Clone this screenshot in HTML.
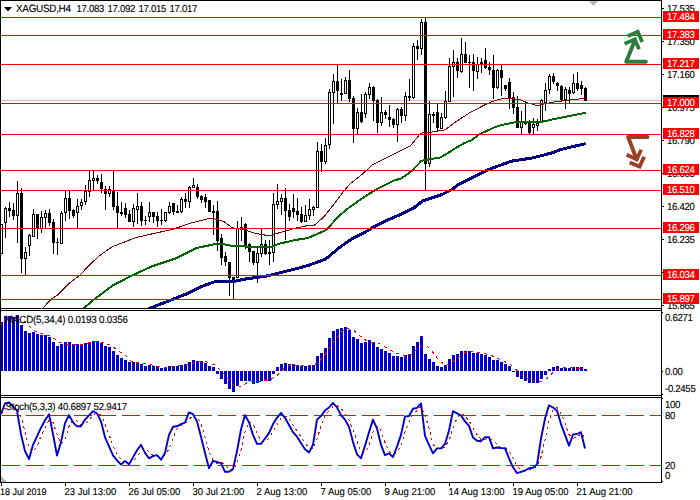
<!DOCTYPE html><html><head><meta charset="utf-8"><title>XAGUSD H4</title><style>
html,body{margin:0;padding:0;background:#fff;}
#c{position:relative;width:700px;height:500px;overflow:hidden;background:#fff;font-family:"Liberation Sans",sans-serif;font-size:9px;color:#000;text-rendering:geometricPrecision;}
#c svg{position:absolute;left:0;top:0;}
.t{position:absolute;white-space:nowrap;line-height:10px;height:10px;transform:scale(1,1.06);transform-origin:50% 55%;-webkit-text-stroke:0.12px #000;}
.ax{left:667px;font-size:9.6px;letter-spacing:-0.3px;}
.pl{position:absolute;left:663px;width:36px;height:11px;background:#f00;color:#fff;font-size:9.6px;letter-spacing:-0.3px;line-height:11px;white-space:nowrap;}
.pl span{position:absolute;left:4px;top:1px;transform:scale(1,1.06);transform-origin:50% 55%;-webkit-text-stroke:0.12px #fff;}
.tm{top:488px;font-size:9.5px;}
</style></head><body><div id="c">
<svg width="700" height="500" viewBox="0 0 700 500" shape-rendering="crispEdges">
<defs><clipPath id="cm"><rect x="1" y="1" width="660" height="307"/></clipPath><clipPath id="cd"><rect x="1" y="311" width="660" height="84"/></clipPath><clipPath id="cs"><rect x="1" y="398" width="660" height="84"/></clipPath></defs>
<g clip-path="url(#cm)">
<rect x="1" y="100" width="660" height="1" fill="#c0c0c0"/>
<rect x="1" y="224" width="1" height="30" fill="#000"/>
<rect x="0" y="224" width="3" height="30" fill="#000"/>
<rect x="1" y="225" width="1" height="28" fill="#fff"/>
<rect x="5" y="207" width="1" height="31" fill="#000"/>
<rect x="4" y="208" width="3" height="15" fill="#000"/>
<rect x="5" y="209" width="1" height="13" fill="#fff"/>
<rect x="9" y="202" width="1" height="15" fill="#000"/>
<rect x="8" y="208" width="3" height="3" fill="#000"/>
<rect x="13" y="203" width="1" height="17" fill="#000"/>
<rect x="12" y="210" width="3" height="6" fill="#000"/>
<rect x="17" y="181" width="1" height="62" fill="#000"/>
<rect x="16" y="193" width="3" height="23" fill="#000"/>
<rect x="17" y="194" width="1" height="21" fill="#fff"/>
<rect x="21" y="188" width="1" height="85" fill="#000"/>
<rect x="20" y="193" width="3" height="66" fill="#000"/>
<rect x="25" y="247" width="1" height="28" fill="#000"/>
<rect x="24" y="252" width="3" height="7" fill="#000"/>
<rect x="25" y="253" width="1" height="5" fill="#fff"/>
<rect x="29" y="234" width="1" height="22" fill="#000"/>
<rect x="28" y="235" width="3" height="11" fill="#000"/>
<rect x="29" y="236" width="1" height="9" fill="#fff"/>
<rect x="33" y="209" width="1" height="28" fill="#000"/>
<rect x="32" y="214" width="3" height="23" fill="#000"/>
<rect x="33" y="215" width="1" height="21" fill="#fff"/>
<rect x="37" y="214" width="1" height="25" fill="#000"/>
<rect x="36" y="214" width="3" height="14" fill="#000"/>
<rect x="41" y="211" width="1" height="22" fill="#000"/>
<rect x="40" y="217" width="3" height="12" fill="#000"/>
<rect x="41" y="218" width="1" height="10" fill="#fff"/>
<rect x="45" y="210" width="1" height="18" fill="#000"/>
<rect x="44" y="213" width="3" height="5" fill="#000"/>
<rect x="45" y="214" width="1" height="3" fill="#fff"/>
<rect x="49" y="209" width="1" height="17" fill="#000"/>
<rect x="48" y="213" width="3" height="10" fill="#000"/>
<rect x="53" y="219" width="1" height="35" fill="#000"/>
<rect x="52" y="222" width="3" height="21" fill="#000"/>
<rect x="57" y="238" width="1" height="17" fill="#000"/>
<rect x="56" y="242" width="3" height="1" fill="#000"/>
<rect x="61" y="211" width="1" height="33" fill="#000"/>
<rect x="60" y="213" width="3" height="31" fill="#000"/>
<rect x="61" y="214" width="1" height="29" fill="#fff"/>
<rect x="65" y="191" width="1" height="30" fill="#000"/>
<rect x="64" y="198" width="3" height="15" fill="#000"/>
<rect x="65" y="199" width="1" height="13" fill="#fff"/>
<rect x="69" y="191" width="1" height="28" fill="#000"/>
<rect x="68" y="198" width="3" height="13" fill="#000"/>
<rect x="73" y="209" width="1" height="9" fill="#000"/>
<rect x="72" y="210" width="3" height="6" fill="#000"/>
<rect x="77" y="199" width="1" height="29" fill="#000"/>
<rect x="76" y="206" width="3" height="7" fill="#000"/>
<rect x="77" y="207" width="1" height="5" fill="#fff"/>
<rect x="81" y="199" width="1" height="11" fill="#000"/>
<rect x="80" y="202" width="3" height="4" fill="#000"/>
<rect x="81" y="203" width="1" height="2" fill="#fff"/>
<rect x="85" y="185" width="1" height="20" fill="#000"/>
<rect x="84" y="191" width="3" height="11" fill="#000"/>
<rect x="85" y="192" width="1" height="9" fill="#fff"/>
<rect x="89" y="171" width="1" height="26" fill="#000"/>
<rect x="88" y="180" width="3" height="12" fill="#000"/>
<rect x="89" y="181" width="1" height="10" fill="#fff"/>
<rect x="93" y="171" width="1" height="20" fill="#000"/>
<rect x="92" y="178" width="3" height="3" fill="#000"/>
<rect x="93" y="179" width="1" height="1" fill="#fff"/>
<rect x="97" y="175" width="1" height="9" fill="#000"/>
<rect x="96" y="178" width="3" height="3" fill="#000"/>
<rect x="101" y="174" width="1" height="19" fill="#000"/>
<rect x="100" y="182" width="3" height="7" fill="#000"/>
<rect x="105" y="186" width="1" height="24" fill="#000"/>
<rect x="104" y="189" width="3" height="5" fill="#000"/>
<rect x="109" y="186" width="1" height="11" fill="#000"/>
<rect x="108" y="189" width="3" height="5" fill="#000"/>
<rect x="109" y="190" width="1" height="3" fill="#fff"/>
<rect x="113" y="171" width="1" height="39" fill="#000"/>
<rect x="112" y="191" width="3" height="16" fill="#000"/>
<rect x="117" y="192" width="1" height="36" fill="#000"/>
<rect x="116" y="206" width="3" height="7" fill="#000"/>
<rect x="121" y="202" width="1" height="14" fill="#000"/>
<rect x="120" y="212" width="3" height="2" fill="#000"/>
<rect x="125" y="203" width="1" height="15" fill="#000"/>
<rect x="124" y="208" width="3" height="7" fill="#000"/>
<rect x="129" y="210" width="1" height="12" fill="#000"/>
<rect x="128" y="214" width="3" height="8" fill="#000"/>
<rect x="133" y="204" width="1" height="23" fill="#000"/>
<rect x="132" y="208" width="3" height="14" fill="#000"/>
<rect x="133" y="209" width="1" height="12" fill="#fff"/>
<rect x="137" y="193" width="1" height="31" fill="#000"/>
<rect x="136" y="206" width="3" height="4" fill="#000"/>
<rect x="137" y="207" width="1" height="2" fill="#fff"/>
<rect x="141" y="202" width="1" height="24" fill="#000"/>
<rect x="140" y="206" width="3" height="15" fill="#000"/>
<rect x="145" y="216" width="1" height="9" fill="#000"/>
<rect x="144" y="220" width="3" height="1" fill="#000"/>
<rect x="149" y="202" width="1" height="20" fill="#000"/>
<rect x="148" y="212" width="3" height="5" fill="#000"/>
<rect x="149" y="213" width="1" height="3" fill="#fff"/>
<rect x="153" y="212" width="1" height="11" fill="#000"/>
<rect x="152" y="212" width="3" height="5" fill="#000"/>
<rect x="157" y="212" width="1" height="15" fill="#000"/>
<rect x="156" y="216" width="3" height="5" fill="#000"/>
<rect x="161" y="209" width="1" height="16" fill="#000"/>
<rect x="160" y="220" width="3" height="1" fill="#000"/>
<rect x="165" y="212" width="1" height="10" fill="#000"/>
<rect x="164" y="212" width="3" height="9" fill="#000"/>
<rect x="165" y="213" width="1" height="7" fill="#fff"/>
<rect x="169" y="202" width="1" height="12" fill="#000"/>
<rect x="168" y="206" width="3" height="7" fill="#000"/>
<rect x="169" y="207" width="1" height="5" fill="#fff"/>
<rect x="173" y="203" width="1" height="12" fill="#000"/>
<rect x="172" y="203" width="3" height="9" fill="#000"/>
<rect x="177" y="205" width="1" height="8" fill="#000"/>
<rect x="176" y="211" width="3" height="2" fill="#000"/>
<rect x="181" y="197" width="1" height="16" fill="#000"/>
<rect x="180" y="199" width="3" height="13" fill="#000"/>
<rect x="181" y="200" width="1" height="11" fill="#fff"/>
<rect x="185" y="193" width="1" height="15" fill="#000"/>
<rect x="184" y="199" width="3" height="3" fill="#000"/>
<rect x="189" y="186" width="1" height="22" fill="#000"/>
<rect x="188" y="187" width="3" height="15" fill="#000"/>
<rect x="189" y="188" width="1" height="13" fill="#fff"/>
<rect x="193" y="178" width="1" height="10" fill="#000"/>
<rect x="192" y="185" width="3" height="3" fill="#000"/>
<rect x="193" y="186" width="1" height="1" fill="#fff"/>
<rect x="197" y="184" width="1" height="15" fill="#000"/>
<rect x="196" y="187" width="3" height="10" fill="#000"/>
<rect x="201" y="195" width="1" height="8" fill="#000"/>
<rect x="200" y="196" width="3" height="4" fill="#000"/>
<rect x="205" y="194" width="1" height="14" fill="#000"/>
<rect x="204" y="197" width="3" height="5" fill="#000"/>
<rect x="209" y="200" width="1" height="12" fill="#000"/>
<rect x="208" y="200" width="3" height="12" fill="#000"/>
<rect x="213" y="205" width="1" height="30" fill="#000"/>
<rect x="212" y="211" width="3" height="2" fill="#000"/>
<rect x="217" y="201" width="1" height="50" fill="#000"/>
<rect x="216" y="211" width="3" height="30" fill="#000"/>
<rect x="221" y="234" width="1" height="31" fill="#000"/>
<rect x="220" y="238" width="3" height="20" fill="#000"/>
<rect x="225" y="252" width="1" height="14" fill="#000"/>
<rect x="224" y="256" width="3" height="6" fill="#000"/>
<rect x="229" y="262" width="1" height="34" fill="#000"/>
<rect x="228" y="262" width="3" height="16" fill="#000"/>
<rect x="233" y="277" width="1" height="22" fill="#000"/>
<rect x="232" y="277" width="3" height="3" fill="#000"/>
<rect x="237" y="221" width="1" height="57" fill="#000"/>
<rect x="236" y="228" width="3" height="50" fill="#000"/>
<rect x="237" y="229" width="1" height="48" fill="#fff"/>
<rect x="241" y="217" width="1" height="24" fill="#000"/>
<rect x="240" y="227" width="3" height="1" fill="#000"/>
<rect x="245" y="223" width="1" height="26" fill="#000"/>
<rect x="244" y="224" width="3" height="22" fill="#000"/>
<rect x="249" y="243" width="1" height="19" fill="#000"/>
<rect x="248" y="244" width="3" height="8" fill="#000"/>
<rect x="253" y="251" width="1" height="14" fill="#000"/>
<rect x="252" y="251" width="3" height="12" fill="#000"/>
<rect x="257" y="247" width="1" height="36" fill="#000"/>
<rect x="256" y="253" width="3" height="10" fill="#000"/>
<rect x="257" y="254" width="1" height="8" fill="#fff"/>
<rect x="261" y="229" width="1" height="28" fill="#000"/>
<rect x="260" y="244" width="3" height="10" fill="#000"/>
<rect x="261" y="245" width="1" height="8" fill="#fff"/>
<rect x="265" y="240" width="1" height="15" fill="#000"/>
<rect x="264" y="244" width="3" height="10" fill="#000"/>
<rect x="269" y="240" width="1" height="25" fill="#000"/>
<rect x="268" y="252" width="3" height="2" fill="#000"/>
<rect x="273" y="193" width="1" height="69" fill="#000"/>
<rect x="272" y="204" width="3" height="49" fill="#000"/>
<rect x="273" y="205" width="1" height="47" fill="#fff"/>
<rect x="277" y="184" width="1" height="25" fill="#000"/>
<rect x="276" y="201" width="3" height="4" fill="#000"/>
<rect x="277" y="202" width="1" height="2" fill="#fff"/>
<rect x="281" y="194" width="1" height="21" fill="#000"/>
<rect x="280" y="198" width="3" height="4" fill="#000"/>
<rect x="281" y="199" width="1" height="2" fill="#fff"/>
<rect x="285" y="188" width="1" height="52" fill="#000"/>
<rect x="284" y="198" width="3" height="13" fill="#000"/>
<rect x="289" y="204" width="1" height="17" fill="#000"/>
<rect x="288" y="210" width="3" height="7" fill="#000"/>
<rect x="293" y="194" width="1" height="24" fill="#000"/>
<rect x="292" y="208" width="3" height="4" fill="#000"/>
<rect x="297" y="198" width="1" height="23" fill="#000"/>
<rect x="296" y="211" width="3" height="4" fill="#000"/>
<rect x="301" y="207" width="1" height="16" fill="#000"/>
<rect x="300" y="214" width="3" height="8" fill="#000"/>
<rect x="305" y="205" width="1" height="17" fill="#000"/>
<rect x="304" y="215" width="3" height="7" fill="#000"/>
<rect x="305" y="216" width="1" height="5" fill="#fff"/>
<rect x="309" y="199" width="1" height="21" fill="#000"/>
<rect x="308" y="209" width="3" height="7" fill="#000"/>
<rect x="309" y="210" width="1" height="5" fill="#fff"/>
<rect x="313" y="206" width="1" height="10" fill="#000"/>
<rect x="312" y="207" width="3" height="3" fill="#000"/>
<rect x="313" y="208" width="1" height="1" fill="#fff"/>
<rect x="317" y="142" width="1" height="66" fill="#000"/>
<rect x="316" y="151" width="3" height="57" fill="#000"/>
<rect x="317" y="152" width="1" height="55" fill="#fff"/>
<rect x="321" y="144" width="1" height="28" fill="#000"/>
<rect x="320" y="151" width="3" height="11" fill="#000"/>
<rect x="325" y="138" width="1" height="26" fill="#000"/>
<rect x="324" y="145" width="3" height="17" fill="#000"/>
<rect x="325" y="146" width="1" height="15" fill="#fff"/>
<rect x="329" y="89" width="1" height="60" fill="#000"/>
<rect x="328" y="92" width="3" height="53" fill="#000"/>
<rect x="329" y="93" width="1" height="51" fill="#fff"/>
<rect x="333" y="74" width="1" height="50" fill="#000"/>
<rect x="332" y="81" width="3" height="12" fill="#000"/>
<rect x="333" y="82" width="1" height="10" fill="#fff"/>
<rect x="337" y="65" width="1" height="38" fill="#000"/>
<rect x="336" y="81" width="3" height="10" fill="#000"/>
<rect x="341" y="79" width="1" height="22" fill="#000"/>
<rect x="340" y="93" width="3" height="2" fill="#000"/>
<rect x="345" y="77" width="1" height="17" fill="#000"/>
<rect x="344" y="80" width="3" height="14" fill="#000"/>
<rect x="345" y="81" width="1" height="12" fill="#fff"/>
<rect x="349" y="70" width="1" height="32" fill="#000"/>
<rect x="348" y="80" width="3" height="19" fill="#000"/>
<rect x="353" y="96" width="1" height="47" fill="#000"/>
<rect x="352" y="98" width="3" height="31" fill="#000"/>
<rect x="357" y="108" width="1" height="26" fill="#000"/>
<rect x="356" y="112" width="3" height="17" fill="#000"/>
<rect x="357" y="113" width="1" height="15" fill="#fff"/>
<rect x="361" y="94" width="1" height="29" fill="#000"/>
<rect x="360" y="112" width="3" height="10" fill="#000"/>
<rect x="365" y="92" width="1" height="26" fill="#000"/>
<rect x="364" y="94" width="3" height="20" fill="#000"/>
<rect x="365" y="95" width="1" height="18" fill="#fff"/>
<rect x="369" y="83" width="1" height="16" fill="#000"/>
<rect x="368" y="87" width="3" height="8" fill="#000"/>
<rect x="369" y="88" width="1" height="6" fill="#fff"/>
<rect x="373" y="86" width="1" height="35" fill="#000"/>
<rect x="372" y="87" width="3" height="14" fill="#000"/>
<rect x="377" y="99" width="1" height="34" fill="#000"/>
<rect x="376" y="100" width="3" height="23" fill="#000"/>
<rect x="381" y="97" width="1" height="29" fill="#000"/>
<rect x="380" y="112" width="3" height="11" fill="#000"/>
<rect x="381" y="113" width="1" height="9" fill="#fff"/>
<rect x="385" y="110" width="1" height="9" fill="#000"/>
<rect x="384" y="112" width="3" height="3" fill="#000"/>
<rect x="389" y="105" width="1" height="22" fill="#000"/>
<rect x="388" y="117" width="3" height="3" fill="#000"/>
<rect x="393" y="118" width="1" height="10" fill="#000"/>
<rect x="392" y="119" width="3" height="6" fill="#000"/>
<rect x="397" y="108" width="1" height="34" fill="#000"/>
<rect x="396" y="109" width="3" height="16" fill="#000"/>
<rect x="397" y="110" width="1" height="14" fill="#fff"/>
<rect x="401" y="107" width="1" height="16" fill="#000"/>
<rect x="400" y="109" width="3" height="7" fill="#000"/>
<rect x="405" y="92" width="1" height="29" fill="#000"/>
<rect x="404" y="96" width="3" height="20" fill="#000"/>
<rect x="405" y="97" width="1" height="18" fill="#fff"/>
<rect x="409" y="79" width="1" height="22" fill="#000"/>
<rect x="408" y="96" width="3" height="2" fill="#000"/>
<rect x="413" y="43" width="1" height="56" fill="#000"/>
<rect x="412" y="46" width="3" height="52" fill="#000"/>
<rect x="413" y="47" width="1" height="50" fill="#fff"/>
<rect x="417" y="40" width="1" height="20" fill="#000"/>
<rect x="416" y="46" width="3" height="3" fill="#000"/>
<rect x="421" y="19" width="1" height="36" fill="#000"/>
<rect x="420" y="22" width="3" height="27" fill="#000"/>
<rect x="421" y="23" width="1" height="25" fill="#fff"/>
<rect x="425" y="18" width="1" height="172" fill="#000"/>
<rect x="424" y="22" width="3" height="142" fill="#000"/>
<rect x="429" y="101" width="1" height="66" fill="#000"/>
<rect x="428" y="114" width="3" height="50" fill="#000"/>
<rect x="429" y="115" width="1" height="48" fill="#fff"/>
<rect x="433" y="112" width="1" height="11" fill="#000"/>
<rect x="432" y="114" width="3" height="2" fill="#000"/>
<rect x="437" y="104" width="1" height="27" fill="#000"/>
<rect x="436" y="112" width="3" height="16" fill="#000"/>
<rect x="441" y="113" width="1" height="16" fill="#000"/>
<rect x="440" y="117" width="3" height="12" fill="#000"/>
<rect x="441" y="118" width="1" height="10" fill="#fff"/>
<rect x="445" y="91" width="1" height="28" fill="#000"/>
<rect x="444" y="101" width="3" height="17" fill="#000"/>
<rect x="445" y="102" width="1" height="15" fill="#fff"/>
<rect x="449" y="58" width="1" height="44" fill="#000"/>
<rect x="448" y="66" width="3" height="36" fill="#000"/>
<rect x="449" y="67" width="1" height="34" fill="#fff"/>
<rect x="453" y="50" width="1" height="47" fill="#000"/>
<rect x="452" y="62" width="3" height="5" fill="#000"/>
<rect x="453" y="63" width="1" height="3" fill="#fff"/>
<rect x="457" y="58" width="1" height="20" fill="#000"/>
<rect x="456" y="62" width="3" height="9" fill="#000"/>
<rect x="461" y="38" width="1" height="35" fill="#000"/>
<rect x="460" y="54" width="3" height="18" fill="#000"/>
<rect x="461" y="55" width="1" height="16" fill="#fff"/>
<rect x="465" y="42" width="1" height="21" fill="#000"/>
<rect x="464" y="54" width="3" height="9" fill="#000"/>
<rect x="469" y="55" width="1" height="33" fill="#000"/>
<rect x="468" y="62" width="3" height="1" fill="#000"/>
<rect x="473" y="54" width="1" height="37" fill="#000"/>
<rect x="472" y="62" width="3" height="9" fill="#000"/>
<rect x="477" y="57" width="1" height="22" fill="#000"/>
<rect x="476" y="64" width="3" height="8" fill="#000"/>
<rect x="477" y="65" width="1" height="6" fill="#fff"/>
<rect x="481" y="58" width="1" height="15" fill="#000"/>
<rect x="480" y="62" width="3" height="2" fill="#000"/>
<rect x="485" y="48" width="1" height="21" fill="#000"/>
<rect x="484" y="60" width="3" height="8" fill="#000"/>
<rect x="489" y="62" width="1" height="13" fill="#000"/>
<rect x="488" y="67" width="3" height="3" fill="#000"/>
<rect x="493" y="55" width="1" height="44" fill="#000"/>
<rect x="492" y="70" width="3" height="18" fill="#000"/>
<rect x="497" y="69" width="1" height="20" fill="#000"/>
<rect x="496" y="70" width="3" height="18" fill="#000"/>
<rect x="497" y="71" width="1" height="16" fill="#fff"/>
<rect x="501" y="65" width="1" height="31" fill="#000"/>
<rect x="500" y="70" width="3" height="8" fill="#000"/>
<rect x="505" y="85" width="1" height="6" fill="#000"/>
<rect x="504" y="85" width="3" height="4" fill="#000"/>
<rect x="509" y="78" width="1" height="31" fill="#000"/>
<rect x="508" y="82" width="3" height="17" fill="#000"/>
<rect x="513" y="92" width="1" height="22" fill="#000"/>
<rect x="512" y="97" width="3" height="11" fill="#000"/>
<rect x="517" y="96" width="1" height="32" fill="#000"/>
<rect x="516" y="107" width="3" height="21" fill="#000"/>
<rect x="521" y="111" width="1" height="23" fill="#000"/>
<rect x="520" y="122" width="3" height="6" fill="#000"/>
<rect x="521" y="123" width="1" height="4" fill="#fff"/>
<rect x="525" y="102" width="1" height="23" fill="#000"/>
<rect x="524" y="121" width="3" height="3" fill="#000"/>
<rect x="529" y="120" width="1" height="14" fill="#000"/>
<rect x="528" y="122" width="3" height="11" fill="#000"/>
<rect x="533" y="118" width="1" height="16" fill="#000"/>
<rect x="532" y="124" width="3" height="4" fill="#000"/>
<rect x="533" y="125" width="1" height="2" fill="#fff"/>
<rect x="537" y="119" width="1" height="12" fill="#000"/>
<rect x="536" y="123" width="3" height="3" fill="#000"/>
<rect x="537" y="124" width="1" height="1" fill="#fff"/>
<rect x="541" y="99" width="1" height="23" fill="#000"/>
<rect x="540" y="100" width="3" height="22" fill="#000"/>
<rect x="541" y="101" width="1" height="20" fill="#fff"/>
<rect x="545" y="83" width="1" height="28" fill="#000"/>
<rect x="544" y="90" width="3" height="13" fill="#000"/>
<rect x="545" y="91" width="1" height="11" fill="#fff"/>
<rect x="549" y="74" width="1" height="20" fill="#000"/>
<rect x="548" y="76" width="3" height="14" fill="#000"/>
<rect x="549" y="77" width="1" height="12" fill="#fff"/>
<rect x="553" y="73" width="1" height="11" fill="#000"/>
<rect x="552" y="76" width="3" height="6" fill="#000"/>
<rect x="557" y="82" width="1" height="9" fill="#000"/>
<rect x="556" y="83" width="3" height="3" fill="#000"/>
<rect x="561" y="85" width="1" height="17" fill="#000"/>
<rect x="560" y="86" width="3" height="14" fill="#000"/>
<rect x="565" y="87" width="1" height="22" fill="#000"/>
<rect x="564" y="89" width="3" height="11" fill="#000"/>
<rect x="565" y="90" width="1" height="9" fill="#fff"/>
<rect x="569" y="87" width="1" height="16" fill="#000"/>
<rect x="568" y="90" width="3" height="4" fill="#000"/>
<rect x="573" y="74" width="1" height="20" fill="#000"/>
<rect x="572" y="83" width="3" height="10" fill="#000"/>
<rect x="573" y="84" width="1" height="8" fill="#fff"/>
<rect x="577" y="72" width="1" height="19" fill="#000"/>
<rect x="576" y="83" width="3" height="6" fill="#000"/>
<rect x="581" y="81" width="1" height="14" fill="#000"/>
<rect x="580" y="85" width="3" height="4" fill="#000"/>
<rect x="585" y="87" width="1" height="14" fill="#000"/>
<rect x="584" y="88" width="3" height="13" fill="#000"/>
<g shape-rendering="crispEdges">
<polyline points="42.4,308.7 51.2,299.1 57.6,295.1 70.4,282.3 80.0,275.1 89.6,264.7 99.2,255.9 112.0,246.9 136.0,237.5 152.0,233.9 172.8,229.3 192.0,222.7 208.0,218.7 214.4,218.7 224.0,221.5 232.0,227.6 243.2,229.5 256.0,233.5 269.6,235.9 276.8,233.5 294.4,228.3 308.0,225.5 314.4,225.2 324.0,216.7 333.6,204.7 343.2,191.9 349.6,184.3 360.8,175.5 372.0,165.1 384.8,158.7 397.6,152.3 410.4,145.9 420.8,133.1 430.4,132.3 444.8,129.9 456.0,121.6 470.4,112.3 486.4,104.0 492.0,101.6 501.6,98.7 511.2,98.3 520.8,100.0 528.8,103.2 538.4,105.9 544.8,103.8 556.0,101.6 568.8,100.0 584.8,98.4" fill="none" stroke="#800000" stroke-width="1" stroke-linejoin="round"/>
<polyline points="83.2,308.7 94.4,299.1 112.0,285.9 131.2,275.9 152.0,266.3 176.0,258.3 196.8,247.9 214.4,244.3 224.0,244.3 233.6,246.3 264.0,246.8 272.0,246.8 278.4,243.9 296.0,239.9 308.0,238.0 325.6,230.3 340.0,215.1 349.6,207.1 362.4,198.3 375.2,189.9 394.4,180.3 400.8,178.7 411.2,171.5 421.6,160.8 432.0,158.9 440.0,157.5 447.2,153.5 455.6,148.1 464.0,143.3 471.2,140.3 480.0,133.9 496.0,126.7 504.8,124.3 517.6,121.9 541.6,121.9 556.0,118.7 572.0,115.5 585.6,112.8" fill="none" stroke="#006400" stroke-width="2" stroke-linejoin="round"/>
<polyline points="148.0,309.0 171.2,299.9 185.6,294.3 200.0,287.1 214.4,281.8 224.0,281.2 233.6,281.5 244.8,279.1 267.2,275.9 284.8,271.6 299.2,267.9 308.0,265.5 325.6,259.1 340.0,247.1 352.8,238.3 365.6,231.9 372.0,227.9 388.0,219.9 400.0,214.7 414.4,207.5 422.4,201.1 441.6,194.7 452.8,189.1 457.6,184.8 472.0,177.9 489.6,169.1 511.2,161.2 532.0,158.0 552.8,152.7 560.8,149.5 585.6,143.6" fill="none" stroke="#000080" stroke-width="3" stroke-linejoin="round"/>
</g>
<rect x="1" y="17" width="660" height="1" fill="#ff0000"/>
<rect x="1" y="35" width="660" height="1" fill="#ff0000"/>
<rect x="1" y="64" width="660" height="1" fill="#ff0000"/>
<rect x="1" y="103" width="660" height="1" fill="#ff0000"/>
<rect x="1" y="134" width="660" height="1" fill="#ff0000"/>
<rect x="1" y="170" width="660" height="1" fill="#ff0000"/>
<rect x="1" y="190" width="660" height="1" fill="#ff0000"/>
<rect x="1" y="228" width="660" height="1" fill="#ff0000"/>
<rect x="1" y="275" width="660" height="1" fill="#ff0000"/>
<rect x="1" y="299" width="660" height="1" fill="#ff0000"/>
<polygon points="589,1 598,1 593.5,6" fill="#b4b4b4" shape-rendering="auto"/>
<g shape-rendering="auto" fill="none" stroke-linecap="round" stroke-linejoin="miter">
<g stroke="#2f7b3e">
<path d="M645.9 61.75 L626.2 61.75 L635.2 39.6" stroke-width="3.9" stroke-linejoin="round"/>
<path d="M624.5 43.8 L634.85 39.4 L639.1 49.2" stroke-width="3.7" stroke-linecap="butt"/>
<path d="M627.7 36.1 L637.75 31.8 L642.2 42.1" stroke-width="3.7" stroke-linecap="butt"/>
</g>
<g stroke="#993f22">
<path d="M647.4 137.05 L628.1 137.05 L636.6 159.3" stroke-width="3.9" stroke-linejoin="round"/>
<path d="M626.6 154.8 L636.7 159.3 L641.2 149.7" stroke-width="3.75" stroke-linecap="butt"/>
<path d="M629.6 162.6 L639.6 166.5 L644.1 156.7" stroke-width="3.75" stroke-linecap="butt"/>
</g></g>
</g><g clip-path="url(#cd)">
<rect x="0" y="322" width="3" height="49" fill="#0000cd"/>
<rect x="4" y="316" width="3" height="55" fill="#0000cd"/>
<rect x="8" y="316" width="3" height="55" fill="#0000cd"/>
<rect x="12" y="317" width="3" height="54" fill="#0000cd"/>
<rect x="16" y="315" width="3" height="56" fill="#0000cd"/>
<rect x="20" y="325" width="3" height="46" fill="#0000cd"/>
<rect x="24" y="331" width="3" height="40" fill="#0000cd"/>
<rect x="28" y="333" width="3" height="38" fill="#0000cd"/>
<rect x="32" y="332" width="3" height="39" fill="#0000cd"/>
<rect x="36" y="334" width="3" height="37" fill="#0000cd"/>
<rect x="40" y="335" width="3" height="36" fill="#0000cd"/>
<rect x="44" y="335" width="3" height="36" fill="#0000cd"/>
<rect x="48" y="337" width="3" height="34" fill="#0000cd"/>
<rect x="52" y="342" width="3" height="29" fill="#0000cd"/>
<rect x="56" y="346" width="3" height="25" fill="#0000cd"/>
<rect x="60" y="344" width="3" height="27" fill="#0000cd"/>
<rect x="64" y="342" width="3" height="29" fill="#0000cd"/>
<rect x="68" y="342" width="3" height="29" fill="#0000cd"/>
<rect x="72" y="344" width="3" height="27" fill="#0000cd"/>
<rect x="76" y="344" width="3" height="27" fill="#0000cd"/>
<rect x="80" y="344" width="3" height="27" fill="#0000cd"/>
<rect x="84" y="343" width="3" height="28" fill="#0000cd"/>
<rect x="88" y="342" width="3" height="29" fill="#0000cd"/>
<rect x="92" y="341" width="3" height="30" fill="#0000cd"/>
<rect x="96" y="341" width="3" height="30" fill="#0000cd"/>
<rect x="100" y="343" width="3" height="28" fill="#0000cd"/>
<rect x="104" y="346" width="3" height="25" fill="#0000cd"/>
<rect x="108" y="347" width="3" height="24" fill="#0000cd"/>
<rect x="112" y="351" width="3" height="20" fill="#0000cd"/>
<rect x="116" y="355" width="3" height="16" fill="#0000cd"/>
<rect x="120" y="358" width="3" height="13" fill="#0000cd"/>
<rect x="124" y="360" width="3" height="11" fill="#0000cd"/>
<rect x="128" y="362" width="3" height="9" fill="#0000cd"/>
<rect x="132" y="362" width="3" height="9" fill="#0000cd"/>
<rect x="136" y="362" width="3" height="9" fill="#0000cd"/>
<rect x="140" y="364" width="3" height="7" fill="#0000cd"/>
<rect x="144" y="366" width="3" height="5" fill="#0000cd"/>
<rect x="148" y="365" width="3" height="6" fill="#0000cd"/>
<rect x="152" y="366" width="3" height="5" fill="#0000cd"/>
<rect x="156" y="366" width="3" height="5" fill="#0000cd"/>
<rect x="160" y="368" width="3" height="3" fill="#0000cd"/>
<rect x="164" y="367" width="3" height="4" fill="#0000cd"/>
<rect x="168" y="366" width="3" height="5" fill="#0000cd"/>
<rect x="172" y="366" width="3" height="5" fill="#0000cd"/>
<rect x="176" y="366" width="3" height="5" fill="#0000cd"/>
<rect x="180" y="365" width="3" height="6" fill="#0000cd"/>
<rect x="184" y="364" width="3" height="7" fill="#0000cd"/>
<rect x="188" y="362" width="3" height="9" fill="#0000cd"/>
<rect x="192" y="360" width="3" height="11" fill="#0000cd"/>
<rect x="196" y="361" width="3" height="10" fill="#0000cd"/>
<rect x="200" y="361" width="3" height="10" fill="#0000cd"/>
<rect x="204" y="363" width="3" height="8" fill="#0000cd"/>
<rect x="208" y="366" width="3" height="5" fill="#0000cd"/>
<rect x="212" y="367" width="3" height="4" fill="#0000cd"/>
<rect x="216" y="371" width="3" height="3" fill="#0000cd"/>
<rect x="220" y="371" width="3" height="8" fill="#0000cd"/>
<rect x="224" y="371" width="3" height="13" fill="#0000cd"/>
<rect x="228" y="371" width="3" height="18" fill="#0000cd"/>
<rect x="232" y="371" width="3" height="21" fill="#0000cd"/>
<rect x="236" y="371" width="3" height="15" fill="#0000cd"/>
<rect x="240" y="371" width="3" height="10" fill="#0000cd"/>
<rect x="244" y="371" width="3" height="10" fill="#0000cd"/>
<rect x="248" y="371" width="3" height="10" fill="#0000cd"/>
<rect x="252" y="371" width="3" height="13" fill="#0000cd"/>
<rect x="256" y="371" width="3" height="12" fill="#0000cd"/>
<rect x="260" y="371" width="3" height="10" fill="#0000cd"/>
<rect x="264" y="371" width="3" height="10" fill="#0000cd"/>
<rect x="268" y="371" width="3" height="10" fill="#0000cd"/>
<rect x="272" y="371" width="3" height="3" fill="#0000cd"/>
<rect x="276" y="367" width="3" height="4" fill="#0000cd"/>
<rect x="280" y="364" width="3" height="7" fill="#0000cd"/>
<rect x="284" y="363" width="3" height="8" fill="#0000cd"/>
<rect x="288" y="364" width="3" height="7" fill="#0000cd"/>
<rect x="292" y="364" width="3" height="7" fill="#0000cd"/>
<rect x="296" y="365" width="3" height="6" fill="#0000cd"/>
<rect x="300" y="366" width="3" height="5" fill="#0000cd"/>
<rect x="304" y="366" width="3" height="5" fill="#0000cd"/>
<rect x="308" y="366" width="3" height="5" fill="#0000cd"/>
<rect x="312" y="365" width="3" height="6" fill="#0000cd"/>
<rect x="316" y="356" width="3" height="15" fill="#0000cd"/>
<rect x="320" y="353" width="3" height="18" fill="#0000cd"/>
<rect x="324" y="348" width="3" height="23" fill="#0000cd"/>
<rect x="328" y="338" width="3" height="33" fill="#0000cd"/>
<rect x="332" y="331" width="3" height="40" fill="#0000cd"/>
<rect x="336" y="329" width="3" height="42" fill="#0000cd"/>
<rect x="340" y="328" width="3" height="43" fill="#0000cd"/>
<rect x="344" y="327" width="3" height="44" fill="#0000cd"/>
<rect x="348" y="330" width="3" height="41" fill="#0000cd"/>
<rect x="352" y="337" width="3" height="34" fill="#0000cd"/>
<rect x="356" y="339" width="3" height="32" fill="#0000cd"/>
<rect x="360" y="343" width="3" height="28" fill="#0000cd"/>
<rect x="364" y="342" width="3" height="29" fill="#0000cd"/>
<rect x="368" y="340" width="3" height="31" fill="#0000cd"/>
<rect x="372" y="342" width="3" height="29" fill="#0000cd"/>
<rect x="376" y="347" width="3" height="24" fill="#0000cd"/>
<rect x="380" y="349" width="3" height="22" fill="#0000cd"/>
<rect x="384" y="351" width="3" height="20" fill="#0000cd"/>
<rect x="388" y="353" width="3" height="18" fill="#0000cd"/>
<rect x="392" y="356" width="3" height="15" fill="#0000cd"/>
<rect x="396" y="356" width="3" height="15" fill="#0000cd"/>
<rect x="400" y="357" width="3" height="14" fill="#0000cd"/>
<rect x="404" y="355" width="3" height="16" fill="#0000cd"/>
<rect x="408" y="354" width="3" height="17" fill="#0000cd"/>
<rect x="412" y="346" width="3" height="25" fill="#0000cd"/>
<rect x="416" y="342" width="3" height="29" fill="#0000cd"/>
<rect x="420" y="336" width="3" height="35" fill="#0000cd"/>
<rect x="424" y="354" width="3" height="17" fill="#0000cd"/>
<rect x="428" y="359" width="3" height="12" fill="#0000cd"/>
<rect x="432" y="362" width="3" height="9" fill="#0000cd"/>
<rect x="436" y="366" width="3" height="5" fill="#0000cd"/>
<rect x="440" y="367" width="3" height="4" fill="#0000cd"/>
<rect x="444" y="365" width="3" height="6" fill="#0000cd"/>
<rect x="448" y="359" width="3" height="12" fill="#0000cd"/>
<rect x="452" y="355" width="3" height="16" fill="#0000cd"/>
<rect x="456" y="354" width="3" height="17" fill="#0000cd"/>
<rect x="460" y="351" width="3" height="20" fill="#0000cd"/>
<rect x="464" y="351" width="3" height="20" fill="#0000cd"/>
<rect x="468" y="351" width="3" height="20" fill="#0000cd"/>
<rect x="472" y="353" width="3" height="18" fill="#0000cd"/>
<rect x="476" y="353" width="3" height="18" fill="#0000cd"/>
<rect x="480" y="354" width="3" height="17" fill="#0000cd"/>
<rect x="484" y="355" width="3" height="16" fill="#0000cd"/>
<rect x="488" y="357" width="3" height="14" fill="#0000cd"/>
<rect x="492" y="360" width="3" height="11" fill="#0000cd"/>
<rect x="496" y="360" width="3" height="11" fill="#0000cd"/>
<rect x="500" y="362" width="3" height="9" fill="#0000cd"/>
<rect x="504" y="364" width="3" height="7" fill="#0000cd"/>
<rect x="508" y="366" width="3" height="5" fill="#0000cd"/>
<rect x="512" y="371" width="3" height="1" fill="#0000cd"/>
<rect x="516" y="371" width="3" height="6" fill="#0000cd"/>
<rect x="520" y="371" width="3" height="8" fill="#0000cd"/>
<rect x="524" y="371" width="3" height="10" fill="#0000cd"/>
<rect x="528" y="371" width="3" height="12" fill="#0000cd"/>
<rect x="532" y="371" width="3" height="12" fill="#0000cd"/>
<rect x="536" y="371" width="3" height="12" fill="#0000cd"/>
<rect x="540" y="371" width="3" height="8" fill="#0000cd"/>
<rect x="544" y="371" width="3" height="4" fill="#0000cd"/>
<rect x="548" y="369" width="3" height="2" fill="#0000cd"/>
<rect x="552" y="367" width="3" height="4" fill="#0000cd"/>
<rect x="556" y="366" width="3" height="5" fill="#0000cd"/>
<rect x="560" y="368" width="3" height="3" fill="#0000cd"/>
<rect x="564" y="368" width="3" height="3" fill="#0000cd"/>
<rect x="568" y="368" width="3" height="3" fill="#0000cd"/>
<rect x="572" y="367" width="3" height="4" fill="#0000cd"/>
<rect x="576" y="367" width="3" height="4" fill="#0000cd"/>
<rect x="580" y="367" width="3" height="4" fill="#0000cd"/>
<rect x="584" y="369" width="3" height="2" fill="#0000cd"/>
<g shape-rendering="auto">
<polyline points="0.0,326.0 5.4,318.8 16.2,317.9 25.2,322.4 32.4,329.6 39.6,333.2 50.4,335.9 59.4,342.2 68.4,344.5 81.0,344.5 93.6,341.8 102.6,342.2 111.6,345.8 118.8,351.2 126.0,356.2 131.4,361.1 140.4,362.9 151.2,364.7 162.0,367.4 172.8,366.5 185.4,365.2 198.0,361.6 207.0,362.0 214.2,364.7 221.4,371.0 228.6,379.1 234.0,385.4 241.2,386.3 248.4,381.8 252.0,381.4 261.0,381.4 270.0,380.0 277.2,375.5 284.4,368.3 291.6,364.7 302.4,365.6 313.2,366.0 320.4,360.2 327.6,351.2 334.8,340.4 342.0,331.4 347.4,328.7 352.8,329.6 360.0,335.9 367.2,341.3 378.0,343.1 382.5,345.4 388.8,349.4 396.0,353.0 405.0,356.2 412.2,353.9 419.4,346.7 424.8,345.3 430.2,348.5 435.6,356.2 441.0,362.0 446.4,365.6 450.0,363.4 457.2,358.4 464.4,353.0 473.4,351.2 482.4,353.0 493.2,356.2 504.0,361.1 511.2,365.2 516.6,370.1 522.0,375.0 529.2,379.1 534.6,381.4 540.9,381.4 547.2,378.2 552.6,372.8 558.0,368.8 565.2,367.4 576.0,368.3 583.2,367.9" fill="none" stroke="#ff0000" stroke-width="1" stroke-dasharray="3 4" shape-rendering="crispEdges"/>
</g></g><g clip-path="url(#cs)"><g shape-rendering="auto">
<path d="M2 415.5 H661 M2 465.5 H661" stroke="#ff0000" stroke-width="1" stroke-dasharray="18 6" fill="none" shape-rendering="crispEdges"/>
<polyline points="1.0,414.0 5.0,408.5 9.0,406.3 13.0,403.7 17.0,406.1 21.0,416.8 25.0,431.7 29.0,447.9 33.0,451.4 37.0,446.5 41.0,436.0 45.0,427.8 49.0,420.4 53.0,422.5 57.0,434.3 61.0,443.6 65.0,440.0 69.0,426.5 73.0,419.9 77.0,420.9 81.0,424.7 85.0,423.8 89.0,420.1 93.0,415.0 97.0,412.9 101.0,414.9 105.0,423.7 109.0,434.7 113.0,446.0 117.0,453.7 121.0,459.8 125.0,461.7 129.0,463.0 133.0,460.6 137.0,457.0 141.0,450.5 145.0,449.0 149.0,451.7 153.0,455.5 157.0,456.2 161.0,456.7 165.0,455.6 169.0,448.9 173.0,437.9 177.0,429.0 181.0,425.4 185.0,424.1 189.0,419.4 193.0,416.1 197.0,415.7 201.0,423.8 205.0,436.7 209.0,452.3 213.0,460.4 217.0,463.4 221.0,461.8 225.0,465.4 229.0,468.7 233.0,470.6 237.0,463.7 241.0,449.6 245.0,431.6 249.0,422.0 253.0,423.8 257.0,433.4 261.0,440.6 265.0,441.8 269.0,438.2 273.0,431.6 277.0,424.7 281.0,418.0 285.0,415.9 289.0,418.3 293.0,424.7 297.0,431.0 301.0,437.0 305.0,442.7 309.0,448.0 313.0,448.6 317.0,438.7 321.0,426.5 325.0,415.1 329.0,411.1 333.0,406.7 337.0,405.7 341.0,408.2 345.0,413.8 349.0,420.2 353.0,429.2 357.0,440.8 361.0,451.3 365.0,452.5 369.0,445.1 373.0,432.2 377.0,426.5 381.0,430.7 385.0,442.5 389.0,450.8 393.0,454.8 397.0,452.0 401.0,445.9 405.0,432.4 409.0,422.2 413.0,413.5 417.0,410.6 421.0,406.4 425.0,415.4 429.0,427.7 433.0,444.3 437.0,448.5 441.0,449.7 445.0,446.6 449.0,440.6 453.0,428.2 457.0,418.0 461.0,413.0 465.0,416.4 469.0,420.6 473.0,428.0 477.0,434.4 481.0,439.5 485.0,439.4 489.0,438.2 493.0,440.6 497.0,444.0 501.0,447.7 505.0,447.7 509.0,451.3 513.0,457.7 517.0,465.9 521.0,470.4 525.0,471.5 529.0,469.9 533.0,468.5 537.0,466.5 541.0,456.6 545.0,440.3 549.0,420.5 553.0,410.2 557.0,407.5 561.0,413.8 565.0,422.9 569.0,434.6 573.0,438.1 577.0,437.8 581.0,433.3 585.0,437.9" fill="none" stroke="#ff0000" stroke-width="1" stroke-dasharray="2.5 3.5" shape-rendering="crispEdges"/>
<polyline points="1.0,414.3 5.0,403.3 9.0,402.3 13.0,406.3 17.0,410.6 21.0,434.3 25.0,451.1 29.0,459.2 33.0,444.8 37.0,436.3 41.0,427.7 45.0,420.3 49.0,414.2 53.0,434.0 57.0,455.6 61.0,442.1 65.0,423.2 69.0,415.1 73.0,422.3 77.0,426.3 81.0,426.3 85.0,419.6 89.0,415.3 93.0,411.1 97.0,413.3 101.0,421.3 105.0,437.3 109.0,446.3 113.0,455.3 117.0,460.3 121.0,464.6 125.0,461.0 129.0,464.2 133.0,457.4 137.0,450.2 141.0,444.8 145.0,452.9 149.0,458.3 153.0,456.1 157.0,455.1 161.0,459.7 165.0,452.9 169.0,434.9 173.0,426.8 177.0,426.3 181.0,424.1 185.0,422.7 189.0,412.4 193.0,414.2 197.0,421.4 201.0,436.7 205.0,452.9 209.0,468.2 213.0,461.0 217.0,461.9 221.0,463.3 225.0,471.8 229.0,471.8 233.0,469.1 237.0,451.1 241.0,429.5 245.0,415.1 249.0,422.3 253.0,434.9 257.0,443.9 261.0,443.9 265.0,438.5 269.0,433.1 273.0,424.1 277.0,417.8 281.0,412.9 285.0,417.8 289.0,425.0 293.0,432.2 297.0,436.7 301.0,443.0 305.0,449.3 309.0,452.5 313.0,444.8 317.0,419.6 321.0,416.0 325.0,410.6 329.0,407.5 333.0,402.9 337.0,407.5 341.0,415.1 345.0,419.6 349.0,426.8 353.0,442.1 357.0,454.3 361.0,458.3 365.0,445.7 369.0,432.2 373.0,419.6 377.0,428.6 381.0,444.8 385.0,455.1 389.0,453.3 393.0,457.0 397.0,446.6 401.0,434.9 405.0,416.5 409.0,416.0 413.0,408.8 417.0,407.9 421.0,403.4 425.0,435.8 429.0,444.8 433.0,453.3 437.0,448.4 441.0,448.4 445.0,443.9 449.0,430.4 453.0,411.1 457.0,413.3 461.0,415.5 465.0,421.4 469.0,425.9 473.0,437.6 477.0,440.7 481.0,441.2 485.0,437.1 489.0,437.1 493.0,448.4 497.0,447.5 501.0,448.0 505.0,448.4 509.0,458.3 513.0,467.3 517.0,473.1 521.0,471.8 525.0,470.5 529.0,468.2 533.0,467.7 537.0,464.6 541.0,438.5 545.0,418.7 549.0,405.2 553.0,407.5 557.0,410.6 561.0,424.1 565.0,434.9 569.0,445.7 573.0,434.5 577.0,434.0 581.0,432.2 585.0,448.4" fill="none" stroke="#0000cd" stroke-width="1.9" stroke-linejoin="round"/>
</g></g>
<rect x="0" y="0" width="662" height="1" fill="#000"/>
<rect x="0" y="0" width="1" height="483" fill="#000"/>
<rect x="661" y="0" width="1" height="483" fill="#000"/>
<rect x="0" y="308" width="662" height="1" fill="#000"/>
<rect x="0" y="310" width="662" height="1" fill="#000"/>
<rect x="0" y="395" width="662" height="1" fill="#000"/>
<rect x="0" y="397" width="662" height="1" fill="#000"/>
<rect x="0" y="482" width="662" height="1" fill="#000"/>
<polygon points="1,476 1,482 7,482" fill="#b4b4b4" shape-rendering="auto"/>
<polygon points="4,7 12,7 8,11.5" fill="#000" shape-rendering="auto"/>
<rect x="662" y="8" width="2" height="1" fill="#000"/>
<rect x="662" y="41" width="2" height="1" fill="#000"/>
<rect x="662" y="74" width="2" height="1" fill="#000"/>
<rect x="662" y="107" width="2" height="1" fill="#000"/>
<rect x="662" y="140" width="2" height="1" fill="#000"/>
<rect x="662" y="173" width="2" height="1" fill="#000"/>
<rect x="662" y="206" width="2" height="1" fill="#000"/>
<rect x="662" y="239" width="2" height="1" fill="#000"/>
<rect x="662" y="272" width="2" height="1" fill="#000"/>
<rect x="662" y="305" width="2" height="1" fill="#000"/>
<rect x="662" y="312" width="1" height="1" fill="#000"/>
<rect x="662" y="371" width="1" height="1" fill="#000"/>
<rect x="662" y="394" width="1" height="1" fill="#000"/>
<rect x="662" y="398" width="1" height="1" fill="#000"/>
<rect x="662" y="481" width="1" height="1" fill="#000"/>
<rect x="1" y="483" width="1" height="3" fill="#000"/>
<rect x="65" y="483" width="1" height="3" fill="#000"/>
<rect x="129" y="483" width="1" height="3" fill="#000"/>
<rect x="193" y="483" width="1" height="3" fill="#000"/>
<rect x="257" y="483" width="1" height="3" fill="#000"/>
<rect x="321" y="483" width="1" height="3" fill="#000"/>
<rect x="385" y="483" width="1" height="3" fill="#000"/>
<rect x="449" y="483" width="1" height="3" fill="#000"/>
<rect x="513" y="483" width="1" height="3" fill="#000"/>
<rect x="577" y="483" width="1" height="3" fill="#000"/>
</svg>
<div class="t " style="left:16px;top:5px;font-size:10px;letter-spacing:-0.35px">XAGUSD,H4</div>
<div class="t " style="left:76.5px;top:5px;font-size:9.6px;letter-spacing:-0.3px">17.083</div>
<div class="t " style="left:107.5px;top:5px;font-size:9.6px;letter-spacing:-0.3px">17.092</div>
<div class="t " style="left:138.5px;top:5px;font-size:9.6px;letter-spacing:-0.3px">17.015</div>
<div class="t " style="left:169.5px;top:5px;font-size:9.6px;letter-spacing:-0.3px">17.017</div>
<div class="t " style="left:5px;top:316px;font-size:9.8px;letter-spacing:-0.2px">MACD(5,34,4) 0.0193 0.0356</div>
<div class="t " style="left:5.5px;top:403px;font-size:9.6px;letter-spacing:-0.2px">Stoch(5,3,3) 40.6897 52.9417</div>
<div class="t ax" style="top:5px">17.535</div>
<div class="t ax" style="top:38px">17.350</div>
<div class="t ax" style="top:71px">17.160</div>
<div class="t ax" style="top:104px">16.975</div>
<div class="t ax" style="top:137px">16.790</div>
<div class="t ax" style="top:170px">16.605</div>
<div class="t ax" style="top:203px">16.420</div>
<div class="t ax" style="top:236px">16.235</div>
<div class="t ax" style="top:269px">16.050</div>
<div class="t ax" style="top:302px">15.865</div>
<div class="t ax" style="top:314px;left:665px">0.6271</div>
<div class="t ax" style="top:368px;left:665px">0.00</div>
<div class="t ax" style="top:385px;left:665px">-0.2455</div>
<div class="t ax" style="top:401px;left:665px">100</div>
<div class="t ax" style="top:412px;left:665px">80</div>
<div class="t ax" style="top:462px;left:665px">20</div>
<div class="t ax" style="top:472px;left:665px">0</div>
<div class="pl" style="top:95px;background:#000"><span>17.017</span></div>
<div class="pl" style="top:11px"><span>17.484</span></div>
<div class="pl" style="top:29px"><span>17.383</span></div>
<div class="pl" style="top:58px"><span>17.217</span></div>
<div class="pl" style="top:97px"><span>17.000</span></div>
<div class="pl" style="top:128px"><span>16.828</span></div>
<div class="pl" style="top:164px"><span>16.624</span></div>
<div class="pl" style="top:184px"><span>16.510</span></div>
<div class="pl" style="top:222px"><span>16.296</span></div>
<div class="pl" style="top:269px"><span>16.034</span></div>
<div class="pl" style="top:293px"><span>15.897</span></div>
<div class="t tm" style="left:0.0px;top:0px;top:487px;font-size:9px">18 Jul 2019</div>
<div class="t tm" style="left:64.5px;top:0px;top:488px">23 Jul 13:00</div>
<div class="t tm" style="left:128.5px;top:0px;top:488px">26 Jul 05:00</div>
<div class="t tm" style="left:192.5px;top:0px;top:488px">30 Jul 21:00</div>
<div class="t tm" style="left:256.5px;top:0px;top:488px">2 Aug 13:00</div>
<div class="t tm" style="left:320.5px;top:0px;top:488px">7 Aug 05:00</div>
<div class="t tm" style="left:384.5px;top:0px;top:488px">9 Aug 21:00</div>
<div class="t tm" style="left:448.5px;top:0px;top:488px">14 Aug 13:00</div>
<div class="t tm" style="left:512.5px;top:0px;top:488px">19 Aug 05:00</div>
<div class="t tm" style="left:576.5px;top:0px;top:488px">21 Aug 21:00</div>
</div></body></html>
